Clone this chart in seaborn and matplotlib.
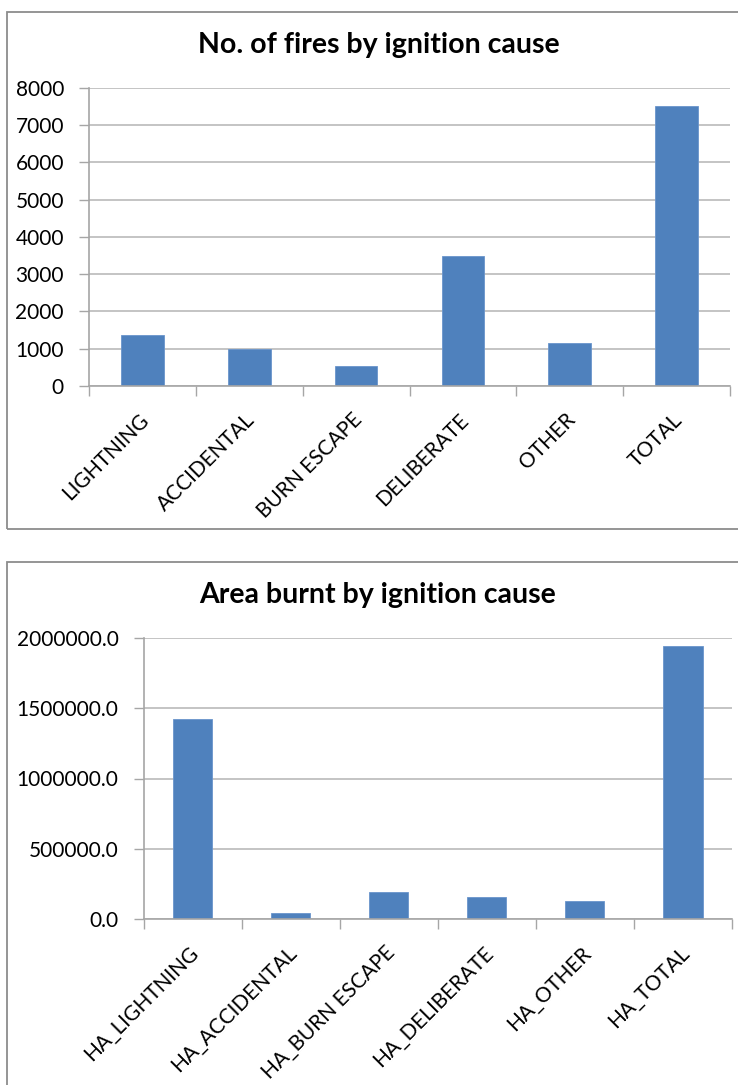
import matplotlib
matplotlib.use("Agg")
import matplotlib.pyplot as plt
import seaborn as sns
import pandas as pd
from matplotlib.patches import Rectangle
from matplotlib.ticker import FixedLocator, FuncFormatter
from matplotlib.transforms import ScaledTranslation

# Number of fires per ignition cause
causes = ["LIGHTNING", "ACCIDENTAL", "BURN ESCAPE", "DELIBERATE", "OTHER", "TOTAL"]
fire_counts = [1365, 1000, 550, 3500, 1165, 7525]
fire_yticks = [0, 1000, 2000, 3000, 4000, 5000, 6000, 7000, 8000]

# Hectares burnt per ignition cause
area_causes = ["HA_LIGHTNING", "HA_ACCIDENTAL", "HA_BURN ESCAPE",
               "HA_DELIBERATE", "HA_OTHER", "HA_TOTAL"]
area_burnt = [1426000, 43000, 192000, 157000, 128000, 1943000]
area_yticks = [0, 500000, 1000000, 1500000, 2000000]

sns.set_style("white")
plt.rcParams["font.family"] = ["Lato", "DejaVu Sans"]

BAR_BLUE = "#4F81BD"
GRID_GREY = "#BFBFBF"
AXIS_GREY = "#A6A6A6"
FRAME_GREY = "#8C8C8C"
TEXT = "#000000"

W, H = 738, 1085
fig = plt.figure(figsize=(W / 100, H / 100), dpi=100)


def fx(px):
    return px / W


def fy(px):
    return 1 - px / H


def panel(rect_px, labels, values, yticks, fmt, title, title_xy):
    left, top, right, bottom = rect_px
    ax = fig.add_axes([fx(left), fy(bottom), fx(right) - fx(left), fy(top) - fy(bottom)])
    df = pd.DataFrame({"cause": labels, "value": values})
    sns.barplot(data=df, x="cause", y="value", order=labels, color=BAR_BLUE,
                saturation=1, width=0.4, ax=ax, edgecolor="#6A95CC", linewidth=0.6)
    ax.set_xlim(-0.5, len(labels) - 0.5)
    ax.set_ylim(yticks[0], yticks[-1])
    ax.set_xlabel("")
    ax.set_ylabel("")

    ax.yaxis.set_major_locator(FixedLocator(yticks))
    ax.yaxis.set_major_formatter(FuncFormatter(fmt))
    ax.yaxis.grid(True, color=GRID_GREY, linewidth=1.3)
    ax.set_axisbelow(True)
    ax.tick_params(axis="y", which="major", direction="out", length=7, width=1,
                   color=AXIS_GREY, pad=11, labelsize=15, labelcolor=TEXT,
                   left=True)

    ax.set_xticks(range(len(labels)))
    ax.set_xticklabels(labels)
    ax.xaxis.set_minor_locator(FixedLocator([i - 0.5 for i in range(len(labels) + 1)]))
    ax.tick_params(axis="x", which="major", length=0, pad=17, labelsize=15,
                   labelcolor=TEXT)
    ax.tick_params(axis="x", which="minor", direction="out", length=7, width=1,
                   color=AXIS_GREY, bottom=True)
    shift = ScaledTranslation(-3 / 72, 0, fig.dpi_scale_trans)
    for lab in ax.get_xticklabels():
        lab.set_rotation(45)
        lab.set_ha("right")
        lab.set_va("top")
        lab.set_rotation_mode("anchor")
        lab.set_transform(lab.get_transform() + shift)

    for side in ("top", "right"):
        ax.spines[side].set_visible(False)
    for side in ("left", "bottom"):
        ax.spines[side].set_color(AXIS_GREY)
        ax.spines[side].set_linewidth(1.2)

    fig.text(fx(title_xy[0]), fy(title_xy[1]), title, ha="center", va="center",
             fontsize=20.5, fontweight="bold", color=TEXT)
    return ax


# Outer chart frames
fig.patches.append(Rectangle((fx(7), fy(529)), 1.2, fy(12) - fy(529),
                             transform=fig.transFigure, fill=False,
                             edgecolor=FRAME_GREY, linewidth=1.3))
fig.patches.append(Rectangle((fx(7), -0.2), 1.2, fy(562) + 0.2,
                             transform=fig.transFigure, fill=False,
                             edgecolor=FRAME_GREY, linewidth=1.3))

panel((89, 88, 730, 386), causes, fire_counts, fire_yticks,
      lambda v, p: f"{v:.0f}", "No. of fires by ignition cause", (379, 45))
panel((143.5, 638, 732, 919), area_causes, area_burnt, area_yticks,
      lambda v, p: f"{v:.1f}", "Area burnt by ignition cause", (378, 595))

fig.savefig("out.png", dpi=100, facecolor="white")
